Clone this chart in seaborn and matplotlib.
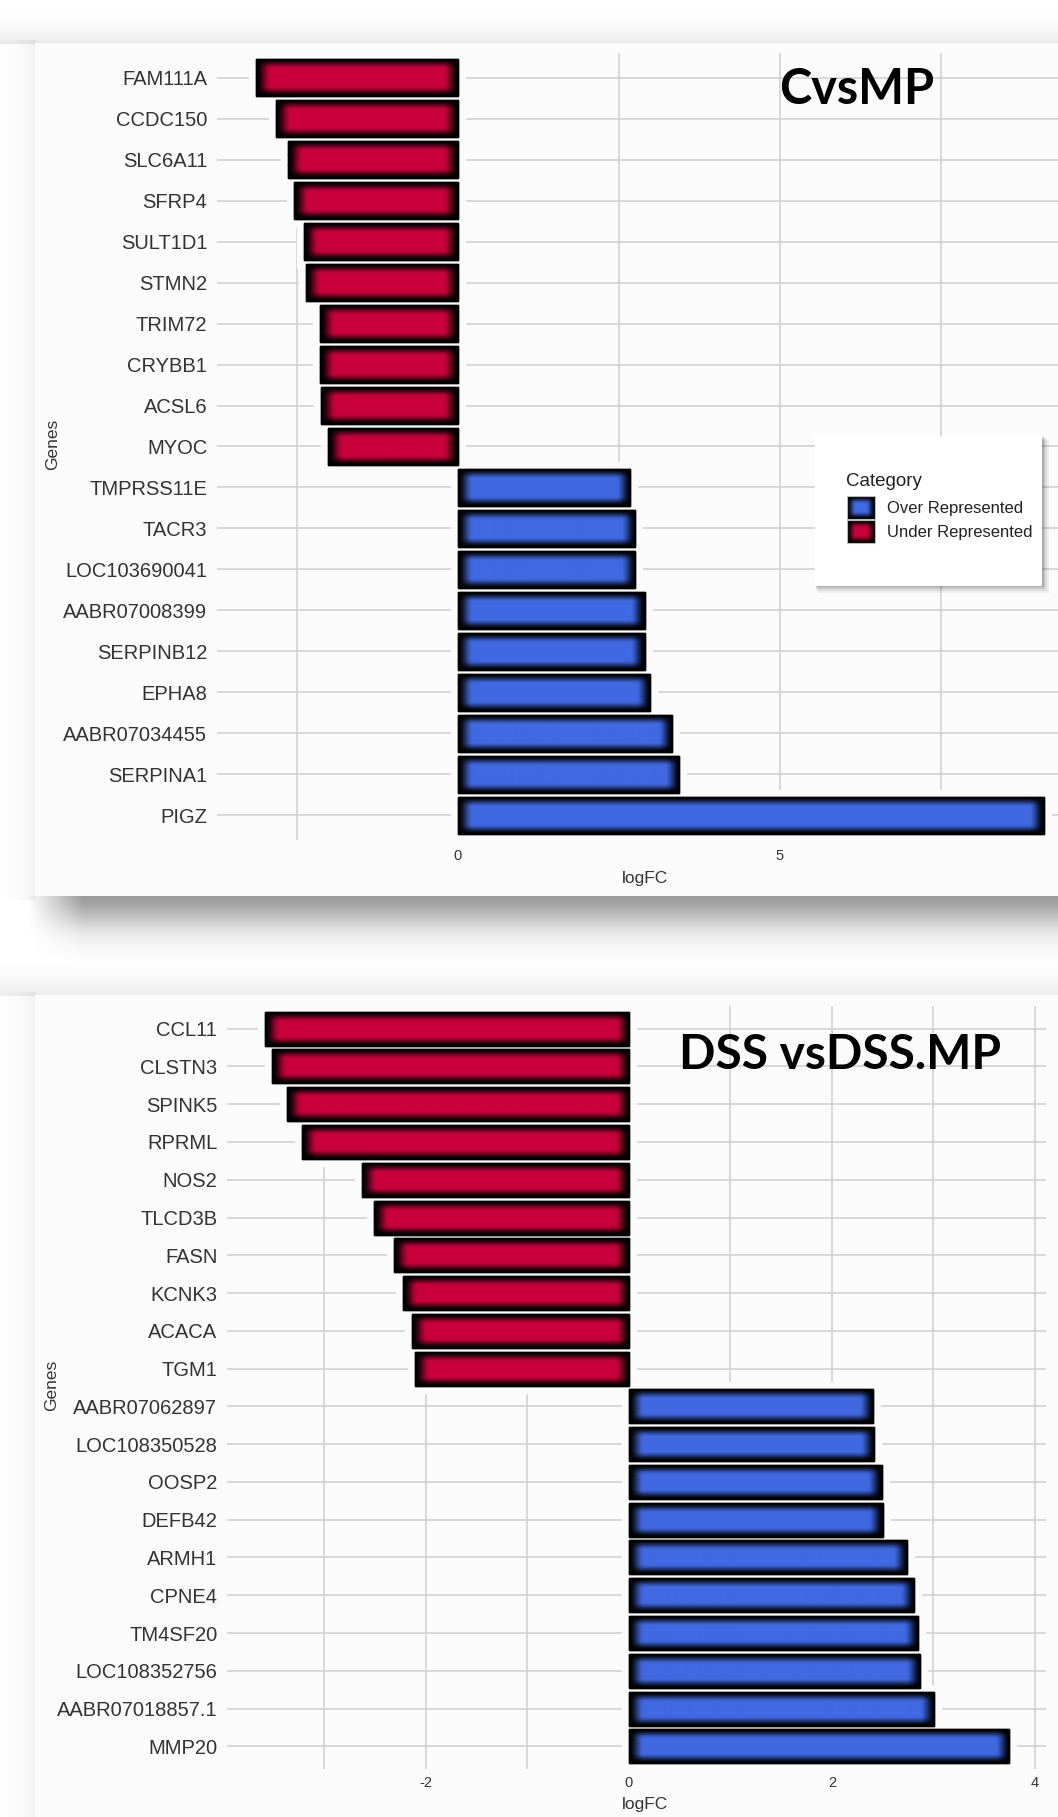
import numpy as np
import pandas as pd
import matplotlib
matplotlib.use("Agg")
import matplotlib.pyplot as plt
import matplotlib.colors as mcolors
import seaborn as sns
from matplotlib.patches import Rectangle
from matplotlib.ticker import MultipleLocator

# ---------------- data ----------------
cvsmp_genes = ["FAM111A", "CCDC150", "SLC6A11", "SFRP4", "SULT1D1", "STMN2", "TRIM72",
               "CRYBB1", "ACSL6", "MYOC", "TMPRSS11E", "TACR3", "LOC103690041",
               "AABR07008399", "SERPINB12", "EPHA8", "AABR07034455", "SERPINA1", "PIGZ"]
cvsmp_logfc = [-3.13, -2.82, -2.64, -2.54, -2.39, -2.36, -2.14, -2.14, -2.12, -2.01,
               2.68, 2.75, 2.75, 2.90, 2.90, 2.99, 3.33, 3.44, 9.10]

dss_genes = ["CCL11", "CLSTN3", "SPINK5", "RPRML", "NOS2", "TLCD3B", "FASN", "KCNK3",
             "ACACA", "TGM1", "AABR07062897", "LOC108350528", "OOSP2", "DEFB42", "ARMH1",
             "CPNE4", "TM4SF20", "LOC108352756", "AABR07018857.1", "MMP20"]
dss_logfc = [-3.59, -3.52, -3.37, -3.22, -2.63, -2.51, -2.31, -2.23, -2.14, -2.11,
             2.41, 2.42, 2.49, 2.50, 2.74, 2.81, 2.85, 2.87, 3.01, 3.75]

categories = ["Over Represented", "Under Represented"]
category_colors = ["#4169E1", "#C8003C"]
panel_titles = ["CvsMP", "DSS vsDSS.MP"]

# ---------------- figure setup ----------------
W, H = 1058, 1817
DPI = 100
CARD = "#FBFBFB"
GRID = "#D2D2D2"
TEXT = "#333333"

plt.rcParams["font.family"] = ["Liberation Sans", "DejaVu Sans"]
plt.rcParams["axes.unicode_minus"] = False
fig = plt.figure(figsize=(W / DPI, H / DPI), dpi=DPI)
fig.patch.set_facecolor("white")


def frac_rect(left, top, right, bottom):
    return [left / W, 1 - bottom / H, (right - left) / W, (bottom - top) / H]


# background: soft drop shadows and the two cards
bg_ax = fig.add_axes([0, 0, 1, 1], zorder=0)
bg_ax.set_xlim(0, W)
bg_ax.set_ylim(H, 0)
bg_ax.axis("off")

yy = np.arange(H)[:, None] + 0.5
xx = np.arange(W)[None, :] + 0.5


def ramp(v, pts):
    xs, ys = zip(*pts)
    return np.interp(v, xs, ys, left=0.0, right=0.0)


dark = np.zeros((H, W))
dark += ramp(yy, [(896, 0.40), (905, 0.35), (915, 0.26), (925, 0.16), (935, 0.08),
                  (945, 0.04), (958, 0.015), (968, 0.0)]) * np.clip((xx - 28) / 55, 0, 1)
dark += ramp(yy, [(12, 0.0), (28, 0.03), (38, 0.06), (44, 0.09)]) * np.ones_like(xx)
dark += ramp(xx, [(0, 0.0), (20, 0.02), (36, 0.05)]) * ((yy > 40) & (yy < 900))
dark += ramp(yy, [(962, 0.0), (980, 0.03), (990, 0.06), (996, 0.07)]) * np.ones_like(xx)
dark += ramp(xx, [(0, 0.0), (20, 0.02), (36, 0.05)]) * (yy > 992)
bg_ax.imshow(1 - np.clip(dark, 0, 1), cmap="gray", vmin=0, vmax=1,
             extent=(0, W, H, 0), interpolation="bilinear", aspect="auto", zorder=0)
bg_ax.add_patch(Rectangle((35, 43), W - 35, 896 - 43, facecolor=CARD, edgecolor="none", zorder=1))
bg_ax.add_patch(Rectangle((35, 995), W - 35, H - 995, facecolor=CARD, edgecolor="none", zorder=1))


def glow_rgb(w, h, color, gx, gy):
    """Bar fill that darkens towards the edges (inner shadow)."""
    base = np.array(mcolors.to_rgb(color))
    x = np.arange(w) + 0.5
    y = np.arange(h) + 0.5
    fx = np.clip(np.minimum(x, w - x) / gx, 0, 1)
    fy = np.clip(np.minimum(y, h - y) / gy, 0, 1)
    fx = fx * fx * (3 - 2 * fx)
    fy = fy * fy * (3 - 2 * fy)
    f = fy[:, None] * fx[None, :]
    return base[None, None, :] * f[..., None]


def draw_panel(rect_px, genes, values, xlim, major, minor, ylab_xy, xlab_xy,
               ytick_size, xtick_pad):
    ax = fig.add_axes(frac_rect(*rect_px), zorder=2)
    ax.set_facecolor("none")
    df = pd.DataFrame({"Genes": genes, "logFC": values})
    df["Category"] = np.where(df["logFC"] > 0, categories[0], categories[1])
    sns.barplot(data=df, x="logFC", y="Genes", hue="Category", order=genes,
                hue_order=categories, palette=dict(zip(categories, category_colors)),
                dodge=False, width=0.9, saturation=1, edgecolor="black",
                linewidth=1.0, legend=False, ax=ax)
    n = len(genes)
    ax.set_xlim(*xlim)
    ax.set_ylim(n - 1 + 0.6, -0.6)
    ax.set_autoscale_on(False)

    ax.xaxis.set_major_locator(MultipleLocator(major))
    ax.xaxis.set_minor_locator(MultipleLocator(minor))
    ax.set_axisbelow(True)
    ax.grid(axis="x", which="both", color=GRID, linewidth=1.2)
    ax.grid(axis="y", which="major", color=GRID, linewidth=1.2)
    for s in ax.spines.values():
        s.set_visible(False)
    ax.tick_params(axis="both", which="both", length=0)
    ax.tick_params(axis="y", labelsize=ytick_size, pad=7, labelcolor=TEXT)
    ax.tick_params(axis="x", labelsize=10.5, pad=xtick_pad, labelcolor=TEXT)

    left, top, right, bottom = rect_px
    ax.set_xlabel("logFC", fontsize=12.5, color=TEXT)
    ax.set_ylabel("Genes", fontsize=12.5, color=TEXT)
    ax.xaxis.set_label_coords((xlab_xy[0] - left) / (right - left),
                              (bottom - xlab_xy[1]) / (bottom - top))
    ax.xaxis.label.set_va("center")
    ax.yaxis.set_label_coords((ylab_xy[0] - left) / (right - left),
                              (bottom - ylab_xy[1]) / (bottom - top))
    ax.yaxis.label.set_va("center")

    # white halo behind every bar, shaded fill and crisp outline on top
    for p in list(ax.patches):
        bb = p.get_bbox()
        x0, x1 = sorted([bb.x0, bb.x1])
        y0, y1 = sorted([bb.y0, bb.y1])
        color = p.get_facecolor()
        p.set_zorder(2)
        ax.add_patch(Rectangle((x0, y0), x1 - x0, y1 - y0, facecolor=CARD,
                               edgecolor=CARD, linewidth=11, joinstyle="miter", zorder=1))
        (px0, py0), (px1, py1) = ax.transData.transform([(x0, y0), (x1, y1)])
        wpx = max(int(round(abs(px1 - px0))), 2)
        hpx = max(int(round(abs(py1 - py0))), 2)
        im = ax.imshow(glow_rgb(wpx, hpx, color[:3], 15, 10), extent=(x0, x1, y1, y0),
                       interpolation="bilinear", aspect="auto", zorder=2.5)
        im.set_clip_path(p)
        ax.add_patch(Rectangle((x0, y0), x1 - x0, y1 - y0, fill=False,
                               edgecolor="black", linewidth=1.0, zorder=3))
    ax.set_xlim(*xlim)
    ax.set_ylim(n - 1 + 0.6, -0.6)
    return ax


ax_top = draw_panel((217, 53, 1083, 840), cvsmp_genes, cvsmp_logfc, (-3.74, 9.71),
                    5, 2.5, (53, 444), (645, 878), 14.5, 6.5)
ax_bot = draw_panel((227, 1006, 1046, 1769), dss_genes, dss_logfc, (-3.96, 4.11),
                    2, 1, (52, 1385), (645, 1804), 14.5, 5)

# overlay: panel titles and the legend
ov = fig.add_axes([0, 0, 1, 1], zorder=5)
ov.set_xlim(0, W)
ov.set_ylim(H, 0)
ov.axis("off")
ov.patch.set_alpha(0)

ov.text(857, 89, panel_titles[0], ha="center", va="center", fontsize=35,
        fontweight="bold", family=["Lato", "DejaVu Sans"], color="black")
ov.text(840, 1055, panel_titles[1], ha="center", va="center", fontsize=34.5,
        fontweight="bold", family=["Lato", "DejaVu Sans"], color="black")

# legend box with a soft shadow
lx0, ly0, lx1, ly1 = 815, 436, 1042, 586
for off, a in [(7, 0.05), (5, 0.07), (3, 0.10), (1.5, 0.12)]:
    ov.add_patch(Rectangle((lx0 + off * 0.4, ly0 + off * 0.6), lx1 - lx0 + off * 0.6,
                           ly1 - ly0 + off * 0.4, facecolor="black", alpha=a,
                           edgecolor="none", zorder=1))
ov.add_patch(Rectangle((lx0, ly0), lx1 - lx0, ly1 - ly0, facecolor="white",
                       edgecolor="none", zorder=2))
ov.text(846, 482, "Category", ha="left", va="center", fontsize=13.5, color="#222222", zorder=3)
for i, (lab, col) in enumerate(zip(categories, category_colors)):
    top_y = 496 + i * 24
    ov.imshow(glow_rgb(28, 23, col, 9, 8), extent=(847, 875, top_y + 23, top_y),
              interpolation="bilinear", aspect="auto", zorder=3)
    ov.add_patch(Rectangle((847, top_y), 28, 23, fill=False, edgecolor="#BBBBBB",
                           linewidth=0.8, zorder=4))
    ov.text(887, top_y + 12.5, lab, ha="left", va="center", fontsize=12,
            color="#222222", zorder=3)
ov.set_xlim(0, W)
ov.set_ylim(H, 0)

fig.savefig("out.png", dpi=DPI, facecolor="white")
